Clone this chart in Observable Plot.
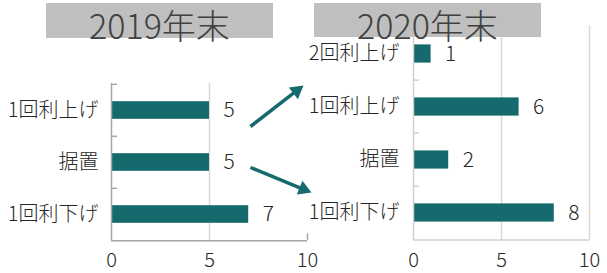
<!DOCTYPE html>
<html><head><meta charset="utf-8">
<script src="https://cdn.jsdelivr.net/npm/d3@7"></script>
<script src="https://cdn.jsdelivr.net/npm/@observablehq/plot@0.6"></script>
<style>
body{margin:0;background:#fff;}
#wrap{position:relative;width:607px;height:273px;overflow:hidden;font-family:"Noto Sans CJK JP Light","Noto Sans CJK JP","Noto Sans",sans-serif;font-weight:300;}
.panel{position:absolute;top:0;}
.tbox{position:absolute;background:#bfbfbf;z-index:2;}
.ttext{position:absolute;z-index:3;font-size:34px;line-height:48px;color:#404040;text-align:center;white-space:nowrap;font-weight:300;}
.overlay{position:absolute;left:0;top:0;z-index:4;}
</style></head><body><div id="wrap"></div>
<script>
const titles = ["2019年末", "2020年末"];
const cats2019 = ["1回利上げ", "据置", "1回利下げ"];
const vals2019 = [5, 5, 7];
const cats2020 = ["2回利上げ", "1回利上げ", "据置", "1回利下げ"];
const vals2020 = [1, 6, 2, 8];
const xTicks = [0, 5, 10];
// annotation arrows (page pixels): from -> to
const arrowStarts = [[250, 126], [250, 167]];
const arrowEnds = [[303, 85], [311, 192]];

const FONT = '"Noto Sans CJK JP Light","Noto Sans CJK JP","Noto Sans",sans-serif';
const BAR = "#146a6d";
const H = 273;

function panel({cats, vals, width, mL, mR, mT, mB, axisColor, full10, inset, labelPad}) {
  const data = cats.map((c, i) => ({cat: c, v: vals[i]}));
  const step = (H - mT - mB) / cats.length;
  const xUnit = (width - mL - mR) / 10;
  const tickLen = 6 / xUnit;
  const last = cats[cats.length - 1];
  const boundaryCats = full10 ? cats.slice(1) : cats;
  return Plot.plot({
    width, height: H, marginLeft: mL, marginRight: mR, marginTop: mT, marginBottom: mB,
    style: {fontFamily: FONT, fontWeight: 300, color: "#262626", background: "transparent", overflow: "visible"},
    x: {domain: [0, 10]},
    y: {domain: cats, padding: 0},
    marks: [
      Plot.ruleX([5], {stroke: "#d9d9d9", strokeWidth: 1.5}),
      full10 ? Plot.ruleX([10], {stroke: "#d9d9d9", strokeWidth: 1.5})
             : Plot.tickX([{cat: last, v: 10}], {x: "v", y: "cat", stroke: axisColor, strokeWidth: 1.5, insetTop: step - 7}),
      Plot.barX(data, {x: "v", y: "cat", fill: BAR, insetTop: inset, insetBottom: inset}),
      Plot.ruleX([0], {stroke: axisColor, strokeWidth: 1.5}),
      Plot.ruleY([last], {dy: step / 2, stroke: axisColor, strokeWidth: 1.5}),
      Plot.ruleY(boundaryCats, {x1: 0, x2: tickLen, dy: -step / 2, stroke: axisColor, strokeWidth: 1.5}),
      Plot.text(data, {x: "v", y: "cat", text: d => String(d.v), textAnchor: "start", dx: 14, fontSize: 21, fill: "#262626"}),
      Plot.axisX({ticks: xTicks, tickSize: 0, tickPadding: 12, fontSize: 20, label: null}),
      Plot.axisY({tickSize: 0, tickPadding: labelPad, fontSize: 20, label: null})
    ]
  });
}

const wrap = document.getElementById("wrap");

const left = panel({cats: cats2019, vals: vals2019, width: 330, mL: 111, mR: 23, mT: 83, mB: 33,
  axisColor: "#a6a6a6", full10: false, inset: 17.2, labelPad: 13});
left.classList.add("panel"); left.style.left = "0px";
wrap.appendChild(left);

const right = panel({cats: cats2020, vals: vals2020, width: 307, mL: 113, mR: 18, mT: 25, mB: 33,
  axisColor: "#d0d0d0", full10: true, inset: 17.4, labelPad: 14});
right.classList.add("panel"); right.style.left = "300px";
wrap.appendChild(right);

// title boxes
const boxes = [{l: 46, w: 227, h: 35}, {l: 314, w: 227, h: 34}];
titles.forEach((t, i) => {
  const b = document.createElement("div");
  b.className = "tbox";
  Object.assign(b.style, {left: boxes[i].l + "px", top: "3px", width: boxes[i].w + "px", height: boxes[i].h + "px"});
  wrap.appendChild(b);
  const tx = document.createElement("div");
  tx.className = "ttext";
  tx.textContent = t;
  Object.assign(tx.style, {left: boxes[i].l + "px", top: "1px", width: boxes[i].w + "px"});
  wrap.appendChild(tx);
});

// arrows overlay
const r = 5.5;
const yHalf = Math.sqrt((Math.PI * r * r) / (3 * Math.sqrt(3)));
const arrows = arrowStarts.map((s, i) => {
  const e = arrowEnds[i];
  const dx = e[0] - s[0], dy = e[1] - s[1];
  const len = Math.hypot(dx, dy);
  const ux = dx / len, uy = dy / len;
  const cx = e[0] - ux * 2 * yHalf, cy = e[1] - uy * 2 * yHalf;
  return {x1: s[0], y1: s[1], x2: cx, y2: cy, cx, cy, rot: Math.atan2(ux, -uy) * 180 / Math.PI};
});
const overlay = Plot.plot({
  width: 607, height: H, margin: 0,
  style: {background: "transparent"},
  x: {domain: [0, 607], range: [0, 607], axis: null},
  y: {domain: [0, H], range: [0, H], axis: null},
  marks: [
    Plot.link(arrows, {x1: "x1", y1: "y1", x2: "x2", y2: "y2", stroke: BAR, strokeWidth: 3.5}),
    Plot.dot(arrows, {x: "cx", y: "cy", r, symbol: "triangle", fill: BAR, stroke: "none", rotate: "rot"})
  ]
});
overlay.classList.add("overlay");
wrap.appendChild(overlay);
</script></body></html>
